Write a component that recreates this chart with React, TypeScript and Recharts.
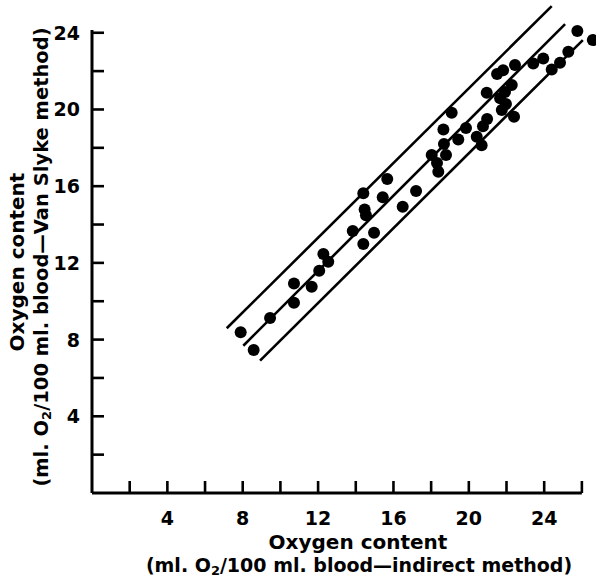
import React from 'react';
import { ScatterChart, Scatter, XAxis, YAxis, ReferenceLine, Label } from 'recharts';

// Oxygen content, indirect method (x) and Van Slyke method (y), ml O2/100 ml blood
const indirect = [
  7.89, 8.58, 9.45, 10.72, 10.72, 11.66, 12.06, 12.28, 12.54, 13.84,
  14.40, 14.97, 14.47, 14.54, 14.40, 15.43, 15.67, 16.49, 17.20, 18.03,
  18.31, 18.38, 18.68, 18.79, 18.65, 19.09, 19.44, 19.85, 20.42, 20.68,
  20.75, 20.97, 20.95, 21.50, 21.82, 22.45, 21.66, 21.92, 22.28, 21.97,
  21.75, 22.40, 23.42, 23.95, 24.40, 24.84, 25.28, 25.76, 26.58,
];
const vanSlyke = [
  8.38, 7.46, 9.12, 9.92, 10.93, 10.76, 11.59, 12.46, 12.06, 13.66,
  12.98, 13.57, 14.79, 14.49, 15.63, 15.42, 16.37, 14.93, 15.75, 17.62,
  17.21, 16.75, 18.20, 17.62, 18.96, 19.83, 18.44, 19.03, 18.58, 18.14,
  19.13, 19.50, 20.87, 21.85, 22.05, 22.32, 20.58, 20.91, 21.27, 20.28,
  19.97, 19.62, 22.40, 22.66, 22.09, 22.44, 23.01, 24.09, 23.62,
];
const points = indirect.map((x, i) => ({ x, y: vanSlyke[i] }));

const upperLine = [{ x: 7.15, y: 8.59 }, { x: 24.4, y: 25.39 }];
const middleLine = [{ x: 8.03, y: 7.68 }, { x: 25.11, y: 24.45 }];
const lowerLine = [{ x: 8.92, y: 6.9 }, { x: 26.05, y: 23.62 }];

const xTicks = [2, 4, 6, 8, 10, 12, 14, 16, 18, 20, 22, 24, 26];
const yTicks = [2, 4, 6, 8, 10, 12, 14, 16, 18, 20, 22, 24];
const xDomain = [0, 26.75];
const yDomain = [0, 25.5];
const xAxisEnd = 26;
const yAxisEnd = 24.15;

const FONT = '"DejaVu Sans", sans-serif';

const XTick = (props: any) => {
  const { x, y, payload } = props;
  const v = payload.value;
  return (
    <g>
      <line x1={x} x2={x} y1={y} y2={y - 12} stroke="#000" strokeWidth={2.6} />
      {v % 4 === 0 && (
        <text x={x} y={y + 25} textAnchor="middle" dominantBaseline="central"
          fontFamily={FONT} fontWeight={700} fontSize={19} fill="#000">{v}</text>
      )}
    </g>
  );
};

const YTick = (props: any) => {
  const { x, y, payload } = props;
  const v = payload.value;
  return (
    <g>
      <line x1={x} x2={x + 12} y1={y} y2={y} stroke="#000" strokeWidth={2.6} />
      {v % 4 === 0 && (
        <text x={x - 12} y={y} textAnchor="end" dominantBaseline="central"
          fontFamily={FONT} fontWeight={700} fontSize={19} fill="#000">{v}</text>
      )}
    </g>
  );
};

const XTitle = () => (
  <g fontFamily={FONT} fontWeight={700} fill="#000">
    <text x={358} y={542} textAnchor="middle" dominantBaseline="central" fontSize={20}>Oxygen content</text>
    <text x={359} y={565} textAnchor="middle" dominantBaseline="central" fontSize={19}>
      (ml. O<tspan dy={5} fontSize={13}>2</tspan><tspan dy={-5}>/100 ml. blood—indirect method)</tspan>
    </text>
  </g>
);

const YTitle = () => (
  <g fontFamily={FONT} fontWeight={700} fill="#000">
    <text x={17} y={262} transform="rotate(-90, 17, 262)" textAnchor="middle" dominantBaseline="central" fontSize={20}>Oxygen content</text>
    <text x={41} y={257} transform="rotate(-90, 41, 257)" textAnchor="middle" dominantBaseline="central" fontSize={19.5}>
      (ml. O<tspan dy={5} fontSize={13}>2</tspan><tspan dy={-5}>/100 ml. blood—Van Slyke method)</tspan>
    </text>
  </g>
);

const Dot = (p: any) => <circle cx={p.cx} cy={p.cy} r={6} fill="#000" />;

export default function App() {
  return (
    <div style={{ position: 'absolute', left: 0, top: 0, background: '#fff' }}>
      <ScatterChart width={596} height={579} margin={{ top: 4, right: 0, bottom: 0, left: 0 }}>
        <XAxis type="number" dataKey="x" domain={xDomain} ticks={xTicks} height={86}
          axisLine={false} tickLine={false} tickSize={0} tickMargin={0} tick={<XTick />}
          allowDataOverflow interval={0}>
          <Label content={<XTitle />} />
        </XAxis>
        <YAxis type="number" dataKey="y" domain={yDomain} ticks={yTicks} width={92}
          axisLine={false} tickLine={false} tickSize={0} tickMargin={0} tick={<YTick />}
          allowDataOverflow interval={0}>
          <Label content={<YTitle />} />
        </YAxis>
        <ReferenceLine segment={[{ x: 0, y: 0 }, { x: xAxisEnd, y: 0 }]} stroke="#000" strokeWidth={3} ifOverflow="visible" />
        <ReferenceLine segment={[{ x: 0, y: 0 }, { x: 0, y: yAxisEnd }]} stroke="#000" strokeWidth={3} ifOverflow="visible" />
        <ReferenceLine segment={upperLine} stroke="#000" strokeWidth={2.6} ifOverflow="visible" />
        <ReferenceLine segment={middleLine} stroke="#000" strokeWidth={2.6} ifOverflow="visible" />
        <ReferenceLine segment={lowerLine} stroke="#000" strokeWidth={2.6} ifOverflow="visible" />
        <Scatter data={points} fill="#000" shape={<Dot />} isAnimationActive={false} />
      </ScatterChart>
    </div>
  );
}
